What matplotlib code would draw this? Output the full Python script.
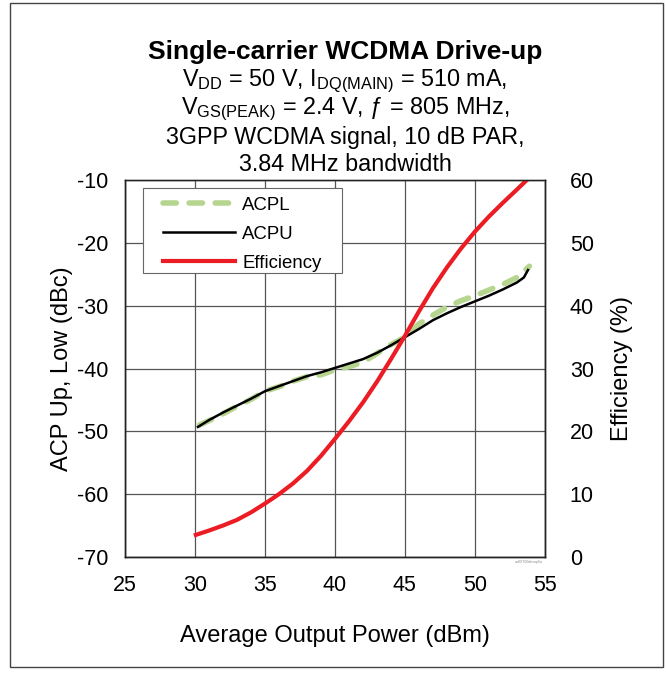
import matplotlib.pyplot as plt
from matplotlib.patches import Rectangle

plt.rcParams['font.family'] = ['Liberation Sans', 'DejaVu Sans']
plt.rcParams['mathtext.fontset'] = 'custom'
plt.rcParams['mathtext.rm'] = 'Liberation Sans'
plt.rcParams['mathtext.it'] = 'Liberation Sans:italic'
plt.rcParams['axes.unicode_minus'] = False

# ACPL (green dashed), ACPU (black), efficiency (red, right axis)
pout_l = [30.3, 31, 32, 33, 34, 35, 36, 37, 38, 39, 40, 41, 42, 43, 44, 45, 46, 47, 48, 49, 50, 51, 52, 53, 53.9]
acpl = [-49.0, -48.3, -47.2, -46.0, -44.9, -43.6, -42.9, -42.0, -41.3, -41.0, -40.2, -39.7, -39.0, -37.6,
        -36.2, -35.0, -32.9, -31.5, -30.2, -29.2, -28.4, -27.5, -26.6, -25.5, -23.7]

pout_u = [30.2, 31, 32, 33, 34, 35, 36, 37, 38, 39, 40, 41, 42, 43, 44, 45, 46, 47, 48, 49, 50, 51, 52, 53,
          53.5, 53.8]
acpu = [-49.3, -48.2, -47.0, -45.9, -44.8, -43.6, -42.8, -42.0, -41.2, -40.6, -39.9, -39.2, -38.5, -37.5,
        -36.3, -35.0, -33.7, -32.3, -31.2, -30.2, -29.3, -28.4, -27.4, -26.3, -25.5, -24.3]

pout_e = [30.05, 31, 32, 33, 34, 35, 36, 37, 38, 39, 40, 41, 42, 43, 44, 45, 46, 47, 48, 49, 50, 51, 52,
          53, 53.7]
eff = [3.5, 4.2, 5.0, 5.9, 7.1, 8.5, 10.0, 11.7, 13.7, 16.1, 18.8, 21.6, 24.6, 27.9, 31.5, 35.2, 39.1,
       42.8, 46.1, 49.1, 51.8, 54.2, 56.4, 58.5, 60.0]

fig = plt.figure(figsize=(6.66, 6.75), dpi=100)
ax = fig.add_axes([0.188, 0.175, 0.630, 0.558])
ax2 = ax.twinx()

l1, = ax.plot(pout_l, acpl, color='#b6d58f', lw=4, linestyle=(0, (2.4, 2.3)), dash_capstyle='round',
              label='ACPL')
l2, = ax.plot(pout_u, acpu, color='black', lw=1.8, label='ACPU')
l3, = ax2.plot(pout_e, eff, color='#ec1c24', lw=3, label='Efficiency')

ax.set_xlim(25, 55)
ax.set_ylim(-70, -10)
ax2.set_ylim(0, 60)
ax.set_xticks(range(25, 56, 5))
ax.set_yticks(range(-70, -9, 10))
ax2.set_yticks(range(0, 61, 10))
ax.grid(True, color='#555555', lw=0.9)
ax.set_axisbelow(True)
ax.tick_params(length=0, labelsize=15.5, pad=12)
ax2.tick_params(length=0, labelsize=15.5, pad=18)
ax.tick_params(axis='x', pad=13)
for a in (ax, ax2):
    for s in a.spines.values():
        s.set_color('#222222')
        s.set_linewidth(1.0)
ax.spines['top'].set_color('#777777')

ax.set_xlabel('Average Output Power (dBm)', fontsize=17, labelpad=21)
ax.set_ylabel('ACP Up, Low (dBc)', fontsize=17, labelpad=3)
ax2.set_ylabel('Efficiency (%)', fontsize=17, labelpad=12)

# legend box drawn by hand, entries without frame
ax2.add_patch(Rectangle((0.043, 0.753), 0.474, 0.226, transform=ax.transAxes, facecolor='white',
                        edgecolor='#666666', lw=0.8, zorder=5))
leg = ax2.legend(handles=[l1, l2, l3], loc='upper left', bbox_to_anchor=(0.0905, 0.956), fontsize=13.4,
                 frameon=False, borderpad=0, borderaxespad=0, handlelength=3.87, handletextpad=0.38,
                 labelspacing=0.64)
leg.set_zorder(6)

fig.text(0.518, 0.923, 'Single-carrier WCDMA Drive-up', ha='center', va='center', fontsize=19, fontweight='bold')
sub = ['V$_{\\mathrm{DD}}$ = 50 V, I$_{\\mathrm{DQ(MAIN)}}$ = 510 mA,',
       'V$_{\\mathrm{GS(PEAK)}}$ = 2.4 V, ƒ = 805 MHz,',
       '3GPP WCDMA signal, 10 dB PAR,',
       '3.84 MHz bandwidth']
for i, t in enumerate(sub):
    fig.text(0.518, 0.879 - i * 0.041, t, ha='center', va='center', fontsize=16.8)

fig.text(0.815, 0.17, 'aa0X700drivup5a', fontsize=2.5, color='#888888', ha='right', va='top')

fig.patches.append(Rectangle((0.015, 0.012), 0.98, 0.983, transform=fig.transFigure,
                             fill=False, edgecolor='#444444', lw=1))

fig.savefig('out.png', dpi=100)
